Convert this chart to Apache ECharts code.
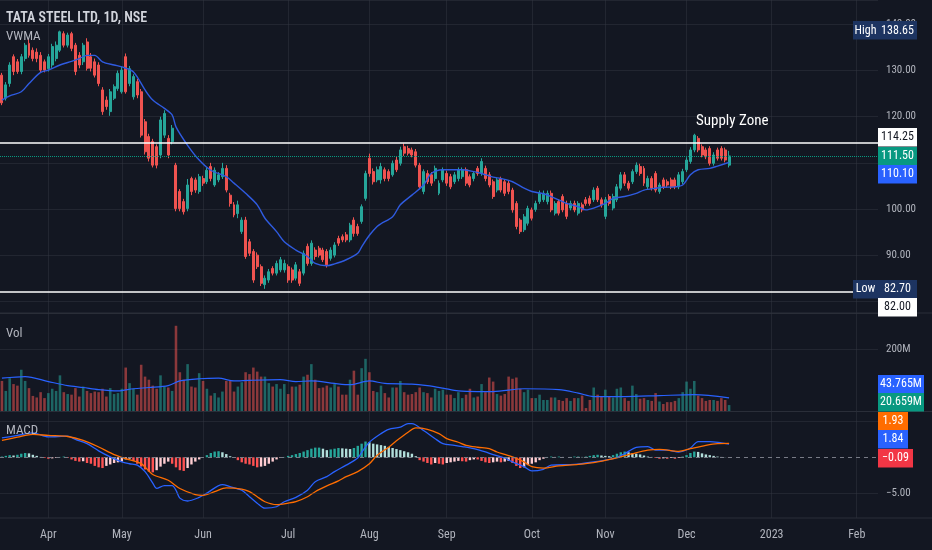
<!DOCTYPE html>
<html><head><meta charset="utf-8">
<script src="https://cdn.jsdelivr.net/npm/echarts@6.0.0/dist/echarts.min.js"></script>
<style>html,body{margin:0;padding:0;background:#131722;}#main{width:932px;height:550px;}</style>
</head><body><div id="main"></div>
<script>
// ---------------- DATA ----------------
const symbolTitle = 'TATA STEEL LTD, 1D, NSE';
const totalSlots = 227; // trading-day slots across the visible time axis
const monthTickIdx = [12, 31, 52, 74, 95, 115, 137, 156, 177, 199, 221];
const monthTickText = ['Apr', 'May', 'Jun', 'Jul', 'Aug', 'Sep', 'Oct', 'Nov', 'Dec', '2023', 'Feb'];
// [open, close, low, high]
const candles = [
[129.0,123.0,122.5,129.5],[124.0,126.9,123.5,127.5],[127.2,131.2,126.5,131.8],[133.0,129.8,129.0,133.5],[131.9,129.8,129.3,132.5],
[129.8,133.0,129.2,133.6],[132.6,135.5,132.0,136.0],[135.9,133.3,132.8,136.8],[134.4,132.6,132.0,135.0],[134.0,132.6,131.8,134.8],
[133.3,130.1,129.5,134.0],[131.9,130.1,129.6,132.4],[130.4,133.0,129.8,133.6],[131.2,135.2,130.6,135.8],[132.6,135.5,132.0,136.3],
[134.4,138.4,134.0,138.65],[138.0,135.5,135.0,138.5],[135.5,137.7,135.0,138.2],[138.0,134.8,134.2,138.4],[135.5,129.8,129.0,136.0],
[133.3,131.2,130.5,134.0],[131.9,135.5,131.2,136.0],[136.2,130.5,130.0,137.0],[133.0,130.5,129.8,133.8],[131.9,129.0,128.5,132.6],
[131.2,127.2,126.6,131.8],[125.8,121.1,120.4,126.4],[123.6,122.2,121.5,124.4],[121.1,125.4,120.2,126.0],[124.0,126.5,123.6,127.0],
[126.1,129.4,125.6,130.0],[125.4,130.1,125.0,130.8],[133.0,125.4,125.0,133.7],[127.2,130.4,126.6,131.0],[124.3,128.7,123.7,129.2],
[127.6,124.7,124.0,128.2],[125.4,116.0,115.5,126.0],[118.9,112.4,111.8,119.5],[115.7,111.0,110.3,116.3],[114.6,109.5,109.0,115.2],
[113.5,109.5,108.8,114.0],[111.7,119.3,111.0,120.0],[116.0,120.7,115.4,121.4],[115.3,111.7,111.0,116.0],[114.6,117.5,114.0,118.2],
[109.5,100.1,99.5,110.0],[103.8,100.1,99.5,104.3],[101.6,99.4,98.8,102.2],[100.1,105.2,99.5,106.5],[106.6,103.8,103.0,107.0],
[106.3,104.1,103.5,106.8],[103.8,107.0,103.3,107.6],[106.6,105.6,105.0,107.2],[105.9,108.4,105.4,109.0],[109.2,106.6,106.0,110.0],
[105.2,108.4,104.8,109.0],[106.3,107.4,105.8,108.0],[107.0,108.8,106.5,110.0],[108.8,104.1,103.6,109.5],[103.0,101.2,100.5,103.5],
[100.9,98.7,98.2,101.5],[99.0,100.9,98.0,101.8],[95.1,97.6,94.6,98.2],[97.6,89.7,89.2,98.3],[92.9,90.4,89.8,93.5],
[90.8,84.6,84.0,91.3],[90.0,87.5,87.0,90.6],[87.5,83.9,83.3,88.0],[83.6,85.0,82.7,85.6],[84.6,86.4,84.0,87.0],
[87.1,86.1,85.6,87.6],[86.1,88.2,85.6,88.8],[86.8,89.0,86.3,89.6],[86.8,88.2,86.2,89.0],[87.5,84.6,84.0,88.0],
[86.8,84.6,84.0,87.3],[85.0,87.9,84.5,88.5],[86.4,83.9,83.3,87.0],[86.1,90.4,85.6,91.0],[91.9,88.2,87.7,92.5],
[88.2,92.6,87.7,93.2],[91.1,89.7,89.0,91.7],[91.5,90.0,89.5,92.0],[91.1,89.0,88.5,91.6],[90.8,87.9,87.3,91.3],
[89.3,91.1,88.8,91.7],[90.0,92.2,89.5,92.8],[93.6,92.6,92.0,94.2],[94.0,93.3,92.8,94.5],[94.4,93.3,92.8,95.0],
[93.3,96.5,92.8,97.0],[97.6,94.7,94.0,98.2],[96.2,94.7,94.2,96.8],[97.3,100.5,96.8,101.0],[102.3,107.7,101.8,108.3],
[111.0,107.7,107.0,112.0],[108.1,105.9,105.3,108.8],[106.3,108.5,105.8,109.2],[106.3,109.2,105.5,110.0],[108.5,106.6,106.0,109.0],
[108.1,106.6,106.0,108.6],[107.4,109.9,107.0,110.5],[110.6,108.5,108.0,111.3],[109.9,112.8,109.4,113.5],[113.5,112.1,111.5,114.2],
[113.1,112.1,111.6,113.7],[112.8,111.7,111.2,113.3],[112.4,109.5,109.0,113.0],[109.5,104.8,104.3,110.0],[103.8,108.1,103.2,108.6],
[107.7,105.9,105.4,108.4],[107.4,105.6,105.0,108.0],[106.6,108.8,106.0,109.4],[103.4,105.6,103.0,106.2],[106.3,108.5,105.8,109.0],
[107.7,105.6,105.0,108.3],[107.0,104.8,104.3,107.6],[105.9,107.4,105.4,108.0],[106.6,108.5,106.0,109.0],[107.0,108.5,106.5,109.0],
[108.5,105.6,105.0,109.0],[107.0,105.2,104.7,107.5],[106.6,107.7,106.0,108.2],[108.8,107.7,107.2,109.3],[107.7,110.3,107.2,111.0],
[108.8,106.6,106.0,109.4],[107.4,105.2,104.7,108.0],[105.9,102.7,102.2,106.4],[104.1,106.3,103.6,106.8],[106.6,104.1,103.6,107.0],
[105.9,103.4,102.8,106.4],[105.6,103.8,103.2,106.1],[104.1,99.8,99.2,104.6],[101.2,96.2,95.6,101.7],[97.6,95.1,94.6,98.0],
[95.5,98.3,95.0,98.9],[96.9,100.1,96.4,100.7],[99.8,98.0,97.5,100.3],[99.9,101.2,99.4,101.8],[101.6,103.4,101.1,104.0],
[102.0,103.4,101.5,104.0],[101.6,103.4,101.0,104.0],[103.4,99.8,99.3,104.0],[99.1,101.2,98.6,101.7],[101.6,99.1,98.6,102.1],
[102.7,99.8,99.3,103.2],[101.2,98.4,97.8,101.8],[100.2,101.2,99.7,101.8],[101.2,99.8,99.3,101.8],[99.1,101.2,98.6,101.7],
[100.9,99.8,99.3,101.4],[102.0,101.2,100.7,102.6],[102.3,101.2,100.7,102.9],[102.0,104.1,101.5,104.7],[104.5,102.0,101.5,105.0],
[102.0,100.9,100.3,102.5],[98.4,102.0,97.8,102.6],[102.7,101.2,100.7,103.2],[100.2,102.7,99.7,103.3],[102.0,104.8,101.5,105.4],
[104.5,107.4,104.0,108.0],[107.4,105.6,105.0,108.0],[105.6,104.5,104.0,106.1],[105.9,108.1,105.4,108.6],[108.1,109.5,107.6,110.1],
[109.2,107.7,107.2,109.8],[108.8,105.6,105.0,109.3],[104.8,106.6,104.3,107.2],[106.6,104.5,104.0,107.1],[107.7,104.1,103.6,108.2],
[103.8,105.2,103.3,105.7],[106.3,104.8,104.3,106.8],[105.9,105.2,104.7,106.4],[106.3,104.8,104.3,106.8],[106.3,104.8,104.3,106.8],
[104.8,107.4,104.3,108.0],[105.9,108.1,105.4,108.7],[108.5,110.6,108.0,111.2],[110.3,112.8,109.8,113.4],[112.8,116.0,112.3,116.3],
[115.3,112.8,112.3,115.8],[113.5,111.7,111.2,114.0],[112.8,111.3,110.8,113.3],[113.1,109.9,109.4,113.6],[109.9,111.7,109.4,112.3],
[112.8,111.0,110.5,113.3],[113.1,111.0,110.5,113.6],[112.8,110.6,110.1,113.3],[109.5,111.5,109.0,112.6]
];
// volume in millions
const volumes = [
98,66,107,88,83,134,98,75,50,45, 62,43,59,73,66,116,62,56,54,75,
48,80,66,59,64,62,73,48,75,56, 59,73,141,91,73,54,150,112,102,83,
73,116,80,77,66,275,126,102,152,80, 77,123,98,73,51,59,45,64,98,98,
64,80,94,126,120,141,128,112,112,91, 80,88,73,88,56,80,80,86,112,118,
152,102,75,77,83,77,88,80,54,54, 102,131,54,139,169,126,66,62,83,59,
45,77,77,98,62,54,56,62,77,62, 59,45,73,66,70,54,54,43,62,43,
54,73,45,48,88,62,109,96,56,51, 56,112,105,109,73,62,70,43,43,54,
37,37,45,45,37,34,43,34,43,43, 51,11,37,77,54,48,70,48,45,73,
77,43,34,83,56,41,43,37,34,59, 32,24,30,30,34,43,62,96,73,98,
51,43,34,37,37,34,43,37,20.659
];
// [bar index, value]
const vwmaPts = [[0,123.6],[2,124.5],[5,125.4],[7,127.2],[10,129.6],[12,130.1],[15,131.2],[18,132.0],[20,132.6],[22,133.3],[24,133.3],[26,131.9],[29,131.2],[31,130.8],[34,129.7],[37,125.8],[39,123.6],[42,121.8],[44,120.4],[45,117.8],[48,113.8],[51,110.6],[54,108.4],[58,107.0],[60,105.6],[63,103.4],[66,100.9],[68,98.0],[71,95.1],[73,92.9],[76,91.1],[79,89.7],[81,88.2],[84,87.7],[86,88.1],[89,89.0],[92,90.4],[93,91.8],[95,94.3],[97,96.2],[98,96.8],[101,98.3],[103,100.9],[106,103.0],[109,105.2],[111,107.7],[114,108.5],[116,108.5],[119,108.5],[122,108.1],[124,107.7],[127,106.9],[129,106.6],[132,105.9],[135,104.5],[137,103.8],[140,103.3],[142,102.7],[145,101.6],[146,101.2],[149,100.5],[151,99.8],[153,100.2],[156,101.2],[158,102.3],[161,102.7],[164,103.4],[166,104.1],[169,104.5],[171,104.7],[174,104.8],[176,105.2],[178,107.4],[180,108.5],[183,108.8],[185,109.3],[188,110.1]];
const volMaPts = [[0,107],[6,112],[12,96],[17,83],[21,77],[25,70],[30,66],[34,73],[38,77],[43,83],[46,98],[51,105],[56,107],[60,98],[64,100],[72,102],[76,96],[80,98],[86,90],[90,86],[95,98],[99,90],[106,88],[110,83],[114,75],[118,66],[123,64],[127,64],[135,73],[144,70],[149,59],[153,48],[161,48],[170,51],[179,54],[188,43.765]];
const macdHist = [
0.1,0.2,0.3,0.25,0.35,0.5,0.6,0.55,0.35,0.2, 0.05,-0.1,-0.2,-0.15,-0.1,0.05,0.1,-0.1,-0.3,-0.5,
-0.6,-0.55,-0.8,-0.9,-1.2,-1.4,-1.5,-1.2,-1.0,-0.8, -0.7,-0.6,-0.3,-0.2,-0.5,-0.9,-1.3,-1.7,-2.0,-2.1,
-1.8,-1.3,-0.9,-0.6,-0.9,-1.4,-1.8,-1.9,-1.5,-1.0, -0.6,-0.3,0.0,0.3,0.6,0.8,0.85,0.7,0.45,0.15,
-0.1,-0.4,-0.7,-0.9,-1.0,-1.2,-1.4,-1.3,-1.2,-0.9, -0.6,-0.3,-0.1,0.05,0.2,0.3,0.45,0.6,0.8,1.0,
1.2,1.35,1.35,1.2,1.0,1.1,1.2,1.3,1.25,1.2, 1.15,1.3,1.6,1.9,2.2,2.1,1.9,1.8,1.7,1.6,
1.45,1.3,1.15,1.0,0.85,0.7,0.5,0.15,-0.4,-0.6, -0.8,-1.0,-0.8,-0.9,-1.0,-0.8,-0.7,-0.6,-0.5,-0.55,
-0.6,-0.4,-0.3,-0.3,-0.5,-0.7,-0.8,-0.7,-0.6,-0.7, -0.6,-0.5,-0.8,-1.2,-1.5,-1.4,-1.1,-0.9,-0.7,-0.4,
-0.2,0.05,0.1,0.05,0.1,0.05,0.0,0.05,0.1,0.1, 0.05,0.1,0.2,0.3,0.35,0.25,0.2,0.15,0.3,0.5,
0.7,0.8,0.7,0.55,0.5,0.4,0.25,0.1,0.05,-0.1, -0.2,-0.15,-0.2,-0.1,-0.2,-0.1,0.1,0.3,0.6,0.8,
0.75,0.55,0.4,0.3,0.2,0.1,0.05,0.02,-0.09
];
const macdPts = [[0,2.7],[4,3.05],[8,3.4],[12,2.85],[17,2.95],[19,2.5],[22,1.9],[25,0.9],[28,0.05],[31,-0.65],[33,-0.9],[35,-1.1],[37,-2.0],[39,-3.6],[40,-4.35],[42,-3.95],[44,-3.95],[45,-4.6],[46,-5.7],[48,-6.1],[51,-5.6],[53,-5.0],[57,-3.8],[59,-4.1],[62,-4.6],[64,-5.5],[66,-6.4],[68,-7.1],[71,-6.9],[73,-6.2],[76,-5.6],[79,-4.6],[81,-3.4],[84,-2.7],[86,-2.0],[89,-1.1],[92,-0.1],[93,0.7],[95,2.1],[98,3.3],[100,3.9],[103,4.2],[105,4.7],[106,4.7],[109,3.75],[112,2.6],[114,1.9],[117,1.67],[119,1.5],[122,1.2],[125,0.74],[127,0.37],[130,-0.1],[132,-0.65],[135,-1.3],[137,-1.9],[140,-1.67],[142,-1.1],[148,-1.0],[153,-0.65],[158,-0.2],[161,0.5],[164,1.4],[167,1.5],[169,1.0],[172,1.0],[175,0.74],[178,1.3],[180,2.2],[183,2.2],[186,2.0],[188,1.84]];
const signalPts = [[0,2.36],[4,2.8],[8,3.2],[12,3.05],[17,2.9],[21,2.36],[25,1.44],[29,0.37],[32,-0.19],[36,-0.88],[39,-2.4],[43,-3.2],[46,-4.35],[50,-5.2],[52,-5.3],[55,-4.8],[58,-4.26],[62,-4.44],[64,-4.8],[66,-5.5],[68,-6.2],[71,-6.6],[74,-6.4],[76,-6.2],[79,-5.5],[81,-4.8],[84,-4.0],[87,-3.3],[89,-2.7],[92,-2.0],[95,-0.9],[97,0.28],[100,1.4],[102,2.3],[105,3.5],[107,4.1],[110,3.9],[113,3.3],[115,2.6],[118,2.1],[120,1.67],[123,1.4],[126,1.2],[128,0.74],[130,0.4],[132,0.05],[135,-0.65],[137,-1.3],[140,-1.5],[144,-1.2],[149,-1.0],[154,-0.65],[160,0.05],[163,0.5],[167,1.0],[170,1.1],[175,0.83],[178,1.2],[182,1.67],[185,1.9],[188,1.93]];
const supplyLevel = 114.25;
const floorLevel = 82.00;
const supplyText = 'Supply Zone';

// ---------------- STYLE ----------------
const FONT = "'Liberation Sans Narrow','Arial Narrow','Roboto Condensed','Liberation Sans',sans-serif";
const BG = '#131722', GRID = 'rgba(54,58,69,0.45)', TXT = '#b2b5be';
const UP = '#26a69a', DN = '#ef5350';
const UPV = 'rgba(38,166,154,0.55)', DNV = 'rgba(239,83,80,0.55)';
const BLUE = '#2962ff', ORANGE = '#ff6d00', NAVY = '#1d3461';

const categories = Array.from({length: totalSlots}, (_, i) => String(i));
const tickMap = {}; monthTickIdx.forEach((k, j) => tickMap[k] = monthTickText[j]);
const isTick = (i) => tickMap[i] !== undefined;

const volData = volumes.map((v, i) => ({value: v, itemStyle: {color: candles[i][1] >= candles[i][0] ? UPV : DNV}}));
const histData = macdHist.map((v, i) => {
  const prev = i > 0 ? macdHist[i - 1] : v;
  let c;
  if (v >= 0) c = v >= prev ? '#26a69a' : '#b2dfdb';
  else c = v > prev ? '#ffcdd2' : '#ff5252';
  return {value: v, itemStyle: {color: c}};
});

function xAx(gi, showLabel) {
  return {
    type: 'category', gridIndex: gi, data: categories, boundaryGap: true,
    axisLine: {show: false}, axisTick: {show: false},
    splitLine: {show: true, alignWithLabel: true, interval: (i) => isTick(i), lineStyle: {color: GRID, width: 1}},
    axisLabel: {show: showLabel, interval: (i) => isTick(i), formatter: (v, i) => tickMap[i] || '',
      color: TXT, fontSize: 12, fontFamily: FONT, margin: 11}
  };
}
const ax = {axisLine: {show: false}, axisTick: {show: false}};
const lbl = {color: TXT, fontSize: 11, fontFamily: FONT, margin: 8, showMinLabel: false, showMaxLabel: false};

const option = {
  backgroundColor: BG,
  animation: false,
  grid: [
    {left: 0, right: 54, top: 0, height: 313},
    {left: 0, right: 54, top: 313, height: 98.5},
    {left: 0, right: 54, top: 411.5, height: 106.5}
  ],
  xAxis: [xAx(0, false), xAx(1, false), xAx(2, true)],
  yAxis: [
    Object.assign({type: 'value', gridIndex: 0, position: 'right', min: 77.46, max: 145.29, splitNumber: 7,
      splitLine: {lineStyle: {color: GRID}}, axisLabel: Object.assign({}, lbl, {formatter: v => v.toFixed(2)})}, ax),
    Object.assign({type: 'value', gridIndex: 1, position: 'right', min: 0, max: 316, interval: 200,
      splitLine: {lineStyle: {color: GRID}}, axisLabel: Object.assign({}, lbl, {formatter: v => v + 'M'})}, ax),
    Object.assign({type: 'value', gridIndex: 2, position: 'right', min: -8.47, max: 6.39, splitNumber: 3,
      splitLine: {show: false}, axisLabel: Object.assign({}, lbl, {formatter: v => (v < 0 ? '\u2212' : '') + Math.abs(v).toFixed(2)})}, ax)
  ],
  series: [
    {type: 'candlestick', xAxisIndex: 0, yAxisIndex: 0, data: candles, barWidth: '64%',
      itemStyle: {color: UP, color0: DN, borderColor: UP, borderColor0: DN, borderWidth: 1},
      markLine: {silent: true, symbol: 'none', label: {show: false},
        data: [
          {yAxis: supplyLevel, lineStyle: {color: '#ffffff', width: 1.6, type: 'solid'}},
          {yAxis: floorLevel, lineStyle: {color: '#ffffff', width: 1.6, type: 'solid'}},
          {yAxis: candles[candles.length - 1][1], lineStyle: {color: '#089981', width: 1, type: 'dotted'}}
        ]}},
    {type: 'line', xAxisIndex: 0, yAxisIndex: 0, data: vwmaPts, showSymbol: false, smooth: 0.3,
      lineStyle: {color: '#2f5be0', width: 1.4}, z: 3},
    {type: 'bar', xAxisIndex: 1, yAxisIndex: 1, data: volData, barWidth: '66%'},
    {type: 'line', xAxisIndex: 1, yAxisIndex: 1, data: volMaPts, showSymbol: false, smooth: 0.3,
      lineStyle: {color: BLUE, width: 1.2}},
    {type: 'bar', xAxisIndex: 2, yAxisIndex: 2, data: histData, barWidth: '62%',
      markLine: {silent: true, symbol: 'none', label: {show: false},
        data: [
          {yAxis: 5, lineStyle: {color: GRID, width: 1, type: 'solid'}},
          {yAxis: -5, lineStyle: {color: GRID, width: 1, type: 'solid'}},
          {yAxis: 0, lineStyle: {color: '#787b86', width: 1, type: [4, 4]}}
        ]}},
    {type: 'line', xAxisIndex: 2, yAxisIndex: 2, data: macdPts, showSymbol: false, smooth: 0.3,
      lineStyle: {color: BLUE, width: 1.3}},
    {type: 'line', xAxisIndex: 2, yAxisIndex: 2, data: signalPts, showSymbol: false, smooth: 0.3,
      lineStyle: {color: ORANGE, width: 1.3}}
  ]
};

const chart = echarts.init(document.getElementById('main'));
chart.setOption(option);

// ---------- overlay labels (positions from the chart's own scales) ----------
const py = v => chart.convertToPixel({yAxisIndex: 0}, v);
const pv = v => chart.convertToPixel({yAxisIndex: 1}, v);
const pm = v => chart.convertToPixel({yAxisIndex: 2}, v);
const fmtNum = v => (v < 0 ? '\u2212' : '') + Math.abs(v).toFixed(2);
const lastC = candles[candles.length - 1][1];
const lastVw = vwmaPts[vwmaPts.length - 1][1];
const hiVal = Math.max(...candles.map(c => c[3]));
const loVal = Math.min(...candles.map(c => c[2]));
const lastVol = volumes[volumes.length - 1];
const lastVolMa = volMaPts[volMaPts.length - 1][1];
const lastHist = macdHist[macdHist.length - 1];
const lastMacd = macdPts[macdPts.length - 1][1];
const lastSig = signalPts[signalPts.length - 1][1];

const AX = 878, H = 18.5, ZL = 5;
function box(x, yc, w, text, bg, fg) {
  return [
    {type: 'rect', zlevel: ZL, z: 10, shape: {x: x, y: Math.round(yc - H / 2), width: w, height: H}, style: {fill: bg}},
    {type: 'text', zlevel: ZL, z: 11, x: x + w / 2, y: yc, style: {text: text, fill: fg, font: '12px ' + FONT, align: 'center', verticalAlign: 'middle'}}
  ];
}
function label(x, y, text, fill, font) {
  return {type: 'text', zlevel: ZL, z: 11, x: x, y: y, style: {text: text, fill: fill, font: font, verticalAlign: 'middle'}};
}
function sep(y) {
  return {type: 'line', zlevel: ZL, z: 1, shape: {x1: 0, y1: y, x2: 932, y2: y}, style: {stroke: '#2a2e39', lineWidth: 1}};
}
let yLast = py(lastC), ySup = py(supplyLevel), yVw = py(lastVw), yLo = py(loVal), yFl = py(floorLevel), yHi = py(hiVal);
ySup = Math.min(ySup, yLast - H);
yVw = Math.max(yVw, yLast + H);
yFl = Math.max(yFl, yLo + H);
let yVol = Math.min(pv(lastVol), 411.5 - H / 2), yVma = Math.min(pv(lastVolMa), yVol - H);
let yHist = pm(lastHist), yMacd = Math.min(pm(lastMacd), yHist - H), ySig = Math.min(pm(lastSig), yMacd - H);

const gfx = [
  sep(313), sep(411.5), sep(518),
  label(6, 18, symbolTitle, '#d1d4dc', '600 14px ' + FONT),
  label(6, 37, 'VWMA', TXT, '13px ' + FONT),
  label(6, 334, 'Vol', TXT, '13px ' + FONT),
  label(6, 431, 'MACD', TXT, '13px ' + FONT),
  label(696, 121, supplyText, '#ffffff', '15px ' + FONT)
].concat(
  box(853, yHi, 25, 'High', NAVY, '#ffffff'),
  box(AX, yHi, 39, hiVal.toFixed(2), NAVY, '#ffffff'),
  box(AX, ySup, 39, supplyLevel.toFixed(2), '#ffffff', '#131722'),
  box(AX, yLast, 39, lastC.toFixed(2), '#089981', '#ffffff'),
  box(AX, yVw, 39, lastVw.toFixed(2), BLUE, '#ffffff'),
  box(853, yLo, 25, 'Low', NAVY, '#ffffff'),
  box(AX, yLo, 39, loVal.toFixed(2), NAVY, '#ffffff'),
  box(AX, yFl, 39, floorLevel.toFixed(2), '#ffffff', '#131722'),
  box(AX, yVma, 46, lastVolMa.toFixed(3) + 'M', BLUE, '#ffffff'),
  box(AX, yVol, 46, lastVol.toFixed(3) + 'M', '#089981', '#ffffff'),
  box(AX, ySig, 30, lastSig.toFixed(2), ORANGE, '#ffffff'),
  box(AX, yMacd, 30, lastMacd.toFixed(2), BLUE, '#ffffff'),
  box(AX, yHist, 35, fmtNum(lastHist), '#f23645', '#ffffff')
);
chart.setOption({graphic: gfx});
</script></body></html>
